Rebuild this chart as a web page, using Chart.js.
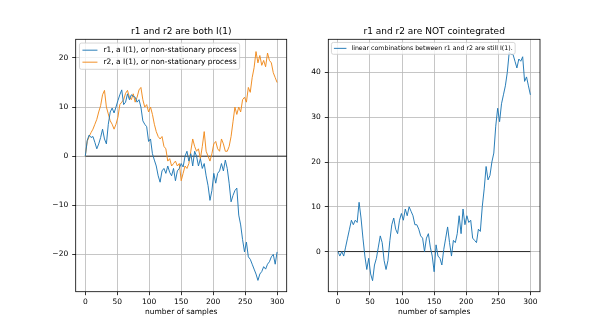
<!DOCTYPE html>
<html>
<head>
<meta charset="utf-8">
<script src="https://cdn.jsdelivr.net/npm/chart.js@4.4.1/dist/chart.umd.min.js"></script>
<style>
  body { margin: 0; background: #fff; }
  .wrap { position: relative; width: 600px; height: 328px; background: #fff; }
  canvas { position: absolute; top: 0; }
</style>
</head>
<body>
<div class="wrap">
  <canvas id="chartKiri" width="300" height="328" style="left:0"></canvas>
  <canvas id="chartKanan" width="300" height="328" style="left:300px"></canvas>
</div>
<script>
// sample index (every 3rd step of the walk)
const samples = Array.from({ length: 101 }, (_, i) => i * 3);

const r1 = [
  0, 3.2, 4.3, 3.8, 4, 2.8, 1.5, 2.5, 3.8, 5.5,
  3.5, 2.5, 6.5, 9, 9.8, 8.8, 10, 11.3, 12.5, 13.5,
  10.5, 11, 12.7, 11.5, 12.5, 12.2, 12, 11, 11.5, 10,
  7.2, 6.5, 6, 3, 3.5, 0.5, -0.8, -2, -4, -5.3,
  -3, -2.5, -3.5, -2, -3.3, -4, -2.5, -5, -3, -2.5,
  -1.5, -2.2, 0, 1, -1, 0.5, -2, 1, 0, -2,
  -0.5, -2.5, -1.5, -4, -6, -9, -7, -3.5, -5.5, -3.5,
  -3, -1.5, -3, -0.8, -2.5, -5.5, -9.3, -8, -7, -6.5,
  -12, -14, -17, -19.5, -17.5, -20.5, -21, -22, -23, -24,
  -25.3, -24, -23.5, -22.5, -23, -22, -21.5, -20.5, -20, -22,
  -19.5
];

const r2 = [
  0, 3, 4, 4.8, 5.5, 6.5, 7.5, 9, 10.3, 12.5,
  13.4, 10, 8.6, 7.2, 6.5, 5.5, 6.5, 7.9, 10.5, 11,
  11.5, 12.8, 13.4, 12, 11.5, 12.7, 11, 12, 13.5, 14,
  11.5, 10, 10.5, 9, 10, 8.5, 6.5, 5, 4, 3.5,
  4, 2, 1.5, -1, -0.5, -2, -1.5, -1, -2, -1.5,
  -5, -3.5, -2, -2.5, -1.5, 1, 3.5, 2, 1, 1.5,
  -0.5, 2, 5, 1, 0, -1, 0.5, 2.5, 3, 1.5,
  1, 3.5, 2.5, 1, 1, 2, 4, 7, 10, 8.5,
  10, 9, 11.5, 12, 11, 14, 13, 16, 18, 21.3,
  19, 20.5, 18.5, 19.5, 18.2, 21, 19.5, 19, 17, 16,
  15
];

// linear combination of r1 and r2
const kombinasi = [
  0, -1, 0, -1, 1, 3, 5, 7, 6, 7,
  6.5, 11, 7.5, 3, -1, -4, -1.5, -5, -6.5, -3,
  -1.5, 1, 3.5, 2, -2, -4, -2, 2.5, 6, 7.5,
  5, 4, 7, 8.5, 7, 9.5, 8, 10, 9, 8,
  6, 6, 5, 3.5, 3, 0, 3, 4, 1, -1,
  -4.5, 1.5, -1, -1.5, -3, 0.5, 3, 5.5, 2, -1,
  2.5, 2, 4, 8, 4, 9.5, 6, 8, 6.5, 7,
  3, 2.5, 2, 5, 4.5, 10, 14, 19, 16, 17,
  20, 22, 28, 32, 29, 33, 35, 37, 40, 44.5,
  44, 44, 42.5, 41, 43, 42.5, 43.5, 38, 39, 37,
  35
];

const labelsKiri = [
  "r1, a I(1), or non-stationary process",
  "r2, a I(1), or non-stationary process"
];
const labelKanan = "linear combinations between r1 and r2 are still I(1).";

const judulKiri = "r1 and r2 are both I(1)";
const judulKanan = "r1 and r2 are NOT cointegrated";
const labelX = "number of samples";

const ticksX = [0, 50, 100, 150, 200, 250, 300];
const ticksYKiri = [-20, -10, 0, 10, 20];
const ticksYKanan = [0, 10, 20, 30, 40];

const FONT = "'DejaVu Sans', sans-serif";
const BIRU = "#1f77b4";
const ORANYE = "#f08a1c";
const GRID = "#b8b8b8";

Chart.defaults.color = "#000";
Chart.defaults.font.family = FONT;

function minus(v) {
  return v < 0 ? "\u2212" + Math.abs(v) : String(v);
}

function titik(ys) {
  return samples.map((s, i) => ({ x: s, y: ys[i] }));
}

// zero line, frame and matplotlib-like legend
const bingkaiPlugin = {
  id: "bingkai",
  beforeDatasetsDraw(chart, args, opts) {
    const { ctx, chartArea, scales } = chart;
    const y = scales.y.getPixelForValue(0);
    const x0 = scales.x.getPixelForValue(samples[0]);
    const x1 = opts.garisNolSampaiTepi ? chartArea.right : scales.x.getPixelForValue(samples[samples.length - 1]);
    ctx.save();
    ctx.strokeStyle = "#2a2a2a";
    ctx.lineWidth = 1;
    ctx.beginPath();
    ctx.moveTo(x0, y);
    ctx.lineTo(x1, y);
    ctx.stroke();
    ctx.restore();
  },
  afterDraw(chart, args, opts) {
    const { ctx, chartArea } = chart;
    ctx.save();
    ctx.strokeStyle = "#000";
    ctx.lineWidth = 0.8;
    ctx.strokeRect(chartArea.left, chartArea.top, chartArea.right - chartArea.left, chartArea.bottom - chartArea.top);
    ctx.restore();
    gambarLegenda(chart, opts.ukuranFont);
  }
};

function gambarLegenda(chart, fs) {
  const { ctx, chartArea } = chart;
  const items = chart.data.datasets.filter(d => d.label);
  const pad = 0.4 * fs, jarak = 0.5 * fs, panjang = 2 * fs, celah = 0.8 * fs, tinggi = 1.1 * fs;
  ctx.save();
  ctx.font = fs + "px " + FONT;
  const lebarTeks = Math.max(...items.map(d => ctx.measureText(d.label).width));
  const x = chartArea.left + 0.5 * fs;
  const y = chartArea.top + 0.5 * fs;
  const w = pad * 2 + panjang + celah + lebarTeks;
  const h = pad * 2 + items.length * tinggi + (items.length - 1) * jarak;

  ctx.beginPath();
  ctx.roundRect(x, y, w, h, 2);
  ctx.fillStyle = "rgba(255,255,255,0.8)";
  ctx.fill();
  ctx.strokeStyle = "#cccccc";
  ctx.lineWidth = 0.8;
  ctx.stroke();

  items.forEach((d, i) => {
    const cy = y + pad + tinggi / 2 + i * (tinggi + jarak);
    ctx.strokeStyle = d.borderColor;
    ctx.lineWidth = d.borderWidth;
    ctx.beginPath();
    ctx.moveTo(x + pad, cy);
    ctx.lineTo(x + pad + panjang, cy);
    ctx.stroke();
    ctx.fillStyle = "#000";
    ctx.textBaseline = "middle";
    ctx.textAlign = "left";
    ctx.fillText(d.label, x + pad + panjang + celah, cy);
  });
  ctx.restore();
}

function buatGrafik(id, datasets, judul, yMin, yMax, ticksY, lebarSumbuY, padKanan, opsiLegenda) {
  const ctx = document.getElementById(id).getContext("2d");
  return new Chart(ctx, {
    type: "line",
    data: { datasets: datasets },
    plugins: [bingkaiPlugin],
    options: {
      responsive: false,
      animation: false,
      events: [],
      layout: { padding: { left: 0, right: padKanan, top: 0, bottom: 0 } },
      elements: { point: { radius: 0 }, line: { tension: 0 } },
      plugins: {
        legend: { display: false },
        tooltip: { enabled: false },
        title: {
          display: true,
          text: judul,
          fullSize: false,
          font: { size: 9, weight: "normal", family: FONT },
          color: "#000",
          padding: { top: 26.6, bottom: 1.9 }
        },
        bingkai: opsiLegenda
      },
      scales: {
        x: {
          type: "linear",
          min: -15,
          max: 315,
          afterFit(scale) { scale.height = 36.3; },
          afterBuildTicks(scale) { scale.ticks = ticksX.map(v => ({ value: v })); },
          ticks: { font: { size: 7.5 }, padding: 2, maxRotation: 0 },
          grid: { color: GRID, lineWidth: 0.8, tickLength: 3.5, tickColor: "#000", tickWidth: 0.8 },
          border: { display: false },
          title: { display: true, text: labelX, font: { size: 7.5 }, padding: { top: 0, bottom: 11.8 } }
        },
        y: {
          min: yMin,
          max: yMax,
          afterFit(scale) { scale.width = lebarSumbuY; },
          afterBuildTicks(scale) { scale.ticks = ticksY.map(v => ({ value: v })); },
          ticks: { font: { size: 7.5 }, padding: 4, callback: v => minus(v) },
          grid: { color: GRID, lineWidth: 0.8, tickLength: 3.5, tickColor: "#000", tickWidth: 0.8 },
          border: { display: false }
        }
      }
    }
  });
}

buatGrafik("chartKiri", [
  { label: labelsKiri[0], data: titik(r1), borderColor: BIRU, borderWidth: 0.95 },
  { label: labelsKiri[1], data: titik(r2), borderColor: ORANYE, borderWidth: 0.95 }
], judulKiri, -27.6, 23.8, ticksYKiri, 75.7, 13.3, { ukuranFont: 7.5, garisNolSampaiTepi: true });

buatGrafik("chartKanan", [
  { label: labelKanan, data: titik(kombinasi), borderColor: BIRU, borderWidth: 0.95 }
], judulKanan, -8.96, 47.4, ticksYKanan, 28.3, 60, { ukuranFont: 6.25, garisNolSampaiTepi: false });
</script>
</body>
</html>
